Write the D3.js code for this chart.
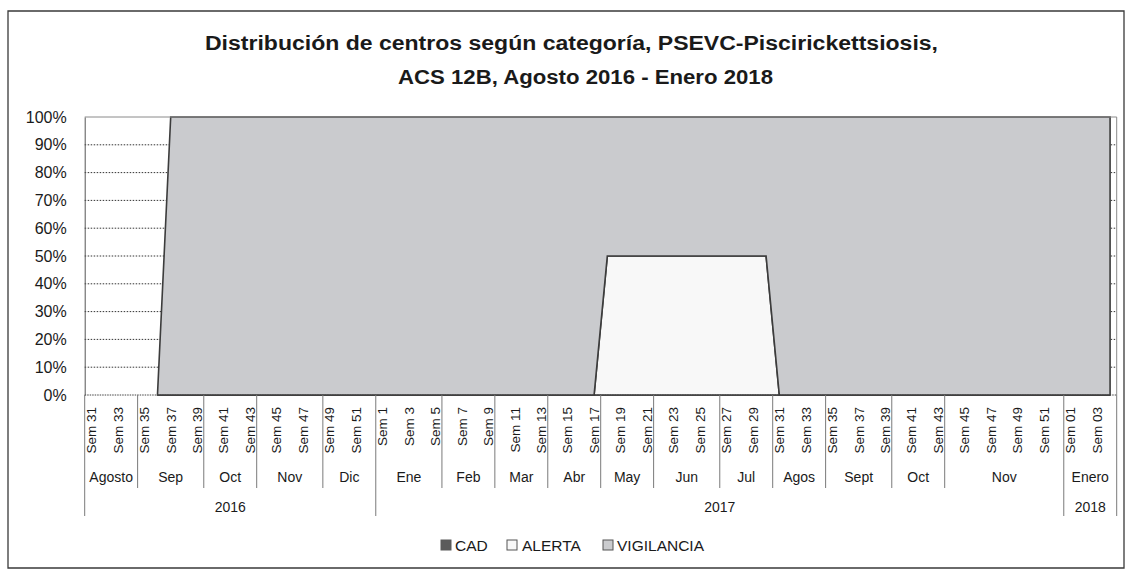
<!DOCTYPE html>
<html><head><meta charset="utf-8">
<script src="https://cdn.jsdelivr.net/npm/d3@7"></script>
<style>
body{margin:0;background:#fff}
svg{display:block}
text{font-family:"Liberation Sans",Arial,sans-serif;fill:#1a1a1a}
</style>
</head><body>
<svg id="c" width="1127" height="570"></svg>
<script>
// ---------- data ----------
const titleLines = ["Distribución de centros según categoría, PSEVC-Piscirickettsiosis,",
                    "ACS 12B, Agosto 2016 - Enero 2018"];
const years = ["2016", "2017", "2018"];
const weeks2016 = ["Sem 31","Sem 32","Sem 33","Sem 34","Sem 35","Sem 36","Sem 37","Sem 38","Sem 39","Sem 40","Sem 41",
  "Sem 42","Sem 43","Sem 44","Sem 45","Sem 46","Sem 47","Sem 48","Sem 49","Sem 50","Sem 51","Sem 52"];
const weeks2017 = ["Sem 1","Sem 2","Sem 3","Sem 4","Sem 5","Sem 6","Sem 7","Sem 8","Sem 9","Sem 10","Sem 11","Sem 12",
  "Sem 13","Sem 14","Sem 15","Sem 16","Sem 17","Sem 18","Sem 19","Sem 20","Sem 21","Sem 22","Sem 23","Sem 24","Sem 25",
  "Sem 26","Sem 27","Sem 28","Sem 29","Sem 30","Sem 31","Sem 32","Sem 33","Sem 34","Sem 35","Sem 36","Sem 37","Sem 38",
  "Sem 39","Sem 40","Sem 41","Sem 42","Sem 43","Sem 44","Sem 45","Sem 46","Sem 47","Sem 48","Sem 49","Sem 50","Sem 51","Sem 52"];
const weeks2018 = ["Sem 01","Sem 02","Sem 03","Sem 04"];

const months2016 = ["Agosto","Sep","Oct","Nov","Dic"];
const monthWeeks2016 = [4,5,4,5,4];
const months2017 = ["Ene","Feb","Mar","Abr","May","Jun","Jul","Agos","Sept","Oct","Nov"];
const monthWeeks2017 = [5,4,4,4,4,5,4,4,5,4,9];
const months2018 = ["Enero"];
const monthWeeks2018 = [4];

// percentages (100% stacked); null = no centres reported
const cad2016 = [null,null,null,null,null,0,0,0,0,0,0,0,0,0,0,0,0,0,0,0,0,0];
const cad2017 = [0,0,0,0,0,0,0,0,0,0,0,0,0,0,0,0,0,0,0,0,0,0,0,0,0,0,
                 0,0,0,0,0,0,0,0,0,0,0,0,0,0,0,0,0,0,0,0,0,0,0,0,0,0];
const cad2018 = [0,0,0,0];
const alerta2016 = [null,null,null,null,null,0,0,0,0,0,0,0,0,0,0,0,0,0,0,0,0,0];
const alerta2017 = [0,0,0,0,0,0,0,0,0,0,0,0,0,0,0,0,0,
                    50,50,50,50,50,50,50,50,50,50,50,50,50,
                    0,0,0,0,0,0,0,0,0,0,0,0,0,0,0,0,0,0,0,0,0,0];
const alerta2018 = [0,0,0,0];
const vigilancia2016 = [null,null,null,null,null,0,100,100,100,100,100,100,100,100,100,100,100,100,100,100,100,100];
const vigilancia2017 = [100,100,100,100,100,100,100,100,100,100,100,100,100,100,100,100,100,
                        50,50,50,50,50,50,50,50,50,50,50,50,50,
                        100,100,100,100,100,100,100,100,100,100,100,100,100,100,100,100,100,100,100,100,100,100];
const vigilancia2018 = [100,100,100,100];

const yTicks = [0,10,20,30,40,50,60,70,80,90,100];
const seriesNames = ["CAD","ALERTA","VIGILANCIA"];

// ---------- build table ----------
const weeksByYear = [weeks2016, weeks2017, weeks2018];
const monthsByYear = [months2016, months2017, months2018];
const monthWeeksByYear = [monthWeeks2016, monthWeeks2017, monthWeeks2018];
const cadAll = cad2016.concat(cad2017, cad2018);
const alertaAll = alerta2016.concat(alerta2017, alerta2018);
const vigAll = vigilancia2016.concat(vigilancia2017, vigilancia2018);
const rows = [];
weeksByYear.forEach((ws, yi) => ws.forEach(w => rows.push({key: years[yi] + "|" + w, week: w})));
rows.forEach((r, i) => { r.CAD = cadAll[i]; r.ALERTA = alertaAll[i]; r.VIGILANCIA = vigAll[i]; });
const keys = rows.map(r => r.key);

// ---------- layout ----------
const svg = d3.select("#c");
const L = 84.7, R = 1116.7, T = 117, B = 395;
const x = d3.scaleBand().domain(keys).range([L, R]).padding(0);
const bw = x.bandwidth();
const cx = k => x(k) + bw / 2;
const y = d3.scaleLinear().domain([0, 100]).range([B, T]);

svg.append("rect").attr("x",0).attr("y",0).attr("width",1127).attr("height",570).attr("fill","#fff");
// outer frame
svg.append("path").attr("d","M8,568 L8,11 L1124,11 L1124,568 Z")
  .attr("fill","none").attr("stroke","#3a3a3a").attr("stroke-width",1.3);

// title
svg.append("text").attr("x",571.5).attr("y",50).attr("text-anchor","middle")
  .attr("font-size",20).attr("font-weight","bold").attr("textLength",733).attr("lengthAdjust","spacingAndGlyphs")
  .text(titleLines[0]);
svg.append("text").attr("x",585.5).attr("y",84).attr("text-anchor","middle")
  .attr("font-size",20).attr("font-weight","bold").attr("textLength",375).attr("lengthAdjust","spacingAndGlyphs")
  .text(titleLines[1]);

// gridlines
svg.append("g").selectAll("line").data(yTicks.filter(v => v > 0 && v < 100)).join("line")
  .attr("x1", L).attr("x2", R).attr("y1", d => y(d)).attr("y2", d => y(d))
  .attr("stroke","#333").attr("stroke-width",1).attr("stroke-dasharray","1.5,1.5");

// stacked areas
const stack = d3.stack().keys(seriesNames).value((d, k) => d[k] == null ? 0 : d[k]);
const layers = stack(rows);
const fills = {CAD:"#5b5b5b", ALERTA:"#f8f8f8", VIGILANCIA:"#cacbce"};
const area = d3.area()
  .defined(d => d.data.VIGILANCIA != null)
  .x(d => cx(d.data.key)).y0(d => y(d[0])).y1(d => y(d[1]));
svg.append("g").selectAll("path").data(layers).join("path")
  .attr("d", area).attr("fill", d => fills[d.key])
  .attr("stroke","#3c3c3c").attr("stroke-width",1.6).attr("stroke-linejoin","miter");

// plot border
svg.append("line").attr("x1",L).attr("x2",R).attr("y1",T).attr("y2",T).attr("stroke","#8a8a8a").attr("stroke-width",1);
svg.append("line").attr("x1",R).attr("x2",R).attr("y1",T).attr("y2",B).attr("stroke","#8a8a8a").attr("stroke-width",1);
svg.append("line").attr("x1",L).attr("x2",R).attr("y1",B).attr("y2",B).attr("stroke","#444").attr("stroke-width",1).attr("stroke-dasharray","1.5,1");

// y axis
const yAxis = svg.append("g").attr("transform",`translate(${L},0)`)
  .call(d3.axisLeft(y).tickValues(yTicks).tickFormat(d => d + "%").tickSize(0).tickPadding(18));
yAxis.select(".domain").attr("stroke","#555");
yAxis.selectAll("text").attr("font-size",16).attr("font-family","Liberation Sans, Arial, sans-serif").attr("fill","#1a1a1a");

// x axis (week labels)
const xAxis = svg.append("g").attr("transform",`translate(0,${B})`)
  .call(d3.axisBottom(x).tickValues(keys.filter((k, i) => i % 2 === 0))
    .tickFormat(k => k.split("|")[1]).tickSize(0));
xAxis.select(".domain").remove();
xAxis.selectAll("text")
  .attr("transform","rotate(-90)").attr("text-anchor","end")
  .attr("x",-12).attr("y",0).attr("dy","0.36em")
  .attr("font-size",13.5).attr("font-family","Liberation Sans, Arial, sans-serif").attr("fill","#1a1a1a");

// month & year groups
const gSep = svg.append("g");
let idx = 0;
years.forEach((yr, yi) => {
  const yStart = idx;
  monthsByYear[yi].forEach((m, mi) => {
    const n = monthWeeksByYear[yi][mi];
    const x0 = x(keys[idx]);
    const x1 = x0 + n * bw;
    if (idx !== yStart) {
      gSep.append("line").attr("x1",x0).attr("x2",x0).attr("y1",B).attr("y2",488)
        .attr("stroke","#7a7a7a").attr("stroke-width",1);
    }
    svg.append("text").attr("x",(x0 + x1) / 2).attr("y",482).attr("text-anchor","middle")
      .attr("font-size",14).text(m);
    idx += n;
  });
  const xs = x(keys[yStart]);
  const xe = idx < keys.length ? x(keys[idx]) : R;
  gSep.append("line").attr("x1",xs).attr("x2",xs).attr("y1",B).attr("y2",516)
    .attr("stroke","#7a7a7a").attr("stroke-width",1);
  svg.append("text").attr("x",(xs + xe) / 2).attr("y",512).attr("text-anchor","middle")
    .attr("font-size",14).text(yr);
});
gSep.append("line").attr("x1",R).attr("x2",R).attr("y1",B).attr("y2",516)
  .attr("stroke","#7a7a7a").attr("stroke-width",1);

// legend
const legendItems = [
  {name:"CAD", mx:441, tx:455},
  {name:"ALERTA", mx:507, tx:522},
  {name:"VIGILANCIA", mx:603, tx:617}
];
const lg = svg.append("g");
legendItems.forEach(it => {
  lg.append("rect").attr("x",it.mx).attr("y",540).attr("width",10).attr("height",10)
    .attr("fill",fills[it.name]).attr("stroke", it.name === "CAD" ? "#5b5b5b" : "#555").attr("stroke-width",1);
  lg.append("text").attr("x",it.tx).attr("y",551).attr("font-size",15.5).text(it.name);
});
</script>
</body></html>
